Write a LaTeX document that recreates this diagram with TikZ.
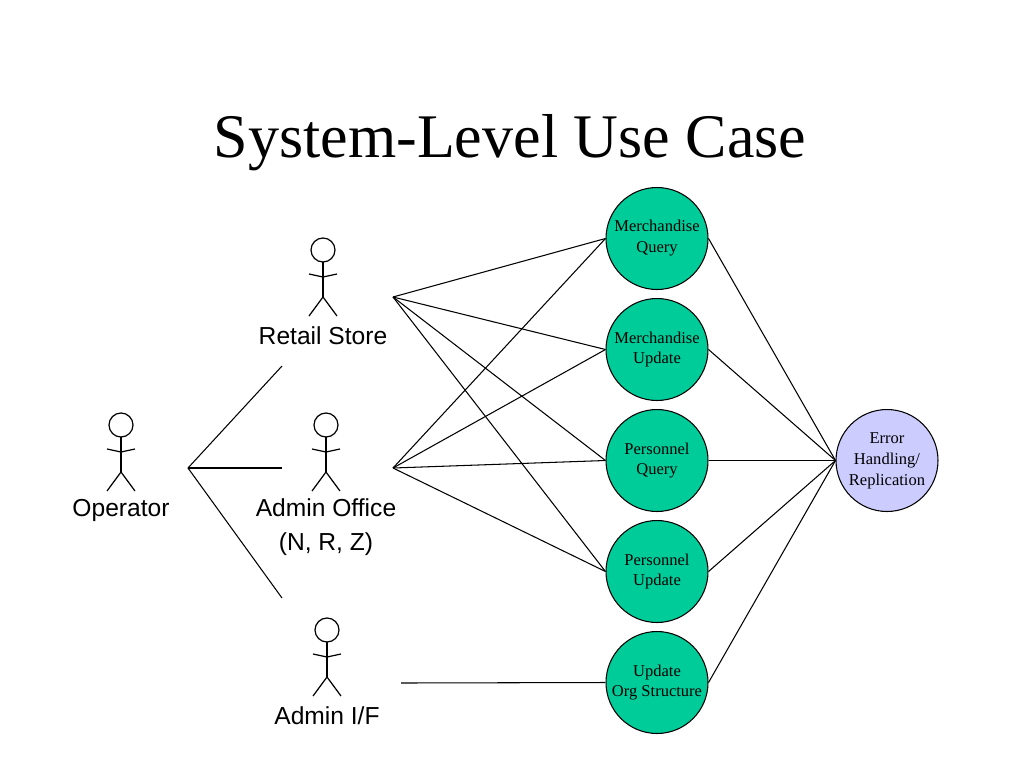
\documentclass[tikz,border=0pt]{standalone}
\usepackage{fontspec}
\setmainfont{Liberation Serif}
\newfontfamily\actorfont{Liberation Sans}
\usepackage{tikz}

\definecolor{casegreen}{RGB}{0,204,153}
\definecolor{errorblue}{RGB}{204,204,255}

\tikzset{
  usecase/.style={circle, draw, line width=0.6pt, fill=casegreen, minimum size=2.04cm, inner sep=0pt,
    align=center, font=\fontsize{9.4}{11.9}\selectfont},
  actorlabel/.style={align=center, font=\actorfont\fontsize{14}{19.3}\selectfont},
  link/.style={line width=0.6pt},
  stickman/.pic={
    \draw[line width=0.7pt] (0,0) circle[radius=12];
    \draw[line width=0.7pt] (0,12) -- (0,47);
    \draw[line width=0.7pt] (-14,24) -- (0,27) -- (14,24);
    \draw[line width=0.7pt] (-14,66) -- (0,47) -- (14,66);
  }
}

\begin{document}
\begin{tikzpicture}[x=0.02cm, y=-0.02cm]
  \useasboundingbox (0,0) rectangle (1024,768);

  % Draw title
  \node[anchor=base, font=\fontsize{35.3}{40}\selectfont] (title) at (510,157) {System-Level Use Case};

  % Draw actors with their labels
  \pic at (121,425) {stickman};
  \node[actorlabel] (operator) at (121,510) {Operator};
  \pic at (323,250) {stickman};
  \node[actorlabel] (retail) at (323,336) {Retail Store};
  \pic at (326,425) {stickman};
  \node[actorlabel] (office) at (326,527) {Admin Office\\(N, R, Z)};
  \pic at (327,630) {stickman};
  \node[actorlabel] (adminif) at (327,716) {Admin I/F};

  % Free ends of the actor connectors
  \coordinate (op-out) at (188,468);
  \coordinate (retail-in) at (282,366);
  \coordinate (office-in) at (282,468);
  \coordinate (if-in) at (282,598);
  \coordinate (retail-out) at (393,297);
  \coordinate (office-out) at (393,468);
  \coordinate (if-out) at (401,683);

  % Draw use cases
  \node[usecase] (mq) at (657,238.5) {Merchandise\\Query};
  \node[usecase] (mu) at (657,349.5) {Merchandise\\Update};
  \node[usecase] (pq) at (657,460.5) {Personnel\\Query};
  \node[usecase] (pu) at (657,571.5) {Personnel\\Update};
  \node[usecase] (org) at (657,682.5) {Update\\Org Structure};
  \node[usecase, fill=errorblue] (err) at (887,460.5) {Error\\Handling/\\Replication};

  % Operator to the other actors
  \draw[link] (retail-in) -- (op-out) -- (if-in);
  \draw[link] (op-out) -- (office-in);

  % Actors to use cases
  \foreach \u in {mq,mu,pq,pu} {
    \draw[link] (retail-out) -- (\u.west);
    \draw[link] (office-out) -- (\u.west);
  }
  \draw[link] (if-out) -- (org.west);

  % Use cases to error handling
  \foreach \u in {mq,mu,pq,pu,org}
    \draw[link] (\u.east) -- (err.west);
\end{tikzpicture}
\end{document}
